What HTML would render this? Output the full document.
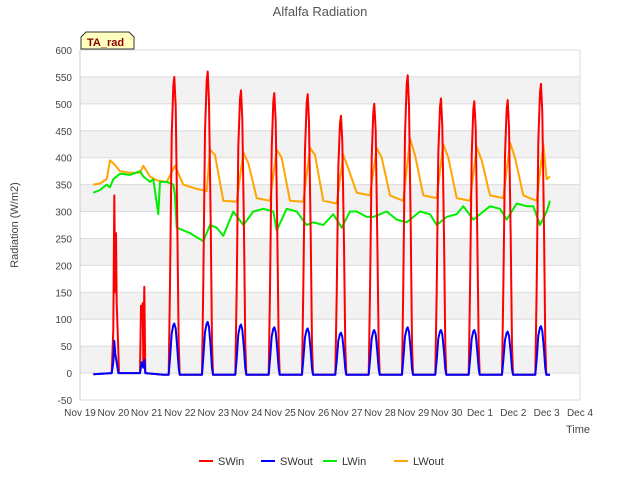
<!DOCTYPE html>
<html><head><meta charset="utf-8"><style>
body{margin:0;background:#fff;font-family:"Liberation Sans",sans-serif;}
svg text{font-family:"Liberation Sans",sans-serif;}
</style></head><body>
<svg id="c" width="640" height="480" xmlns="http://www.w3.org/2000/svg">
<text x="320" y="16" text-anchor="middle" font-size="13" fill="#555">Alfalfa Radiation</text>
<text transform="translate(18,225) rotate(-90)" text-anchor="middle" font-size="11" fill="#444">Radiation (W/m2)</text>
<text x="566" y="433" font-size="11" fill="#444">Time</text>
<g id="bands"></g><g id="grid"></g><g id="ticks"></g><g id="series"></g>
<g>
<path d="M81,49 L81,37 L86,32 L129,32 L134,37 L134,49 Z" fill="#ffffc0" stroke="#333"/>
<text x="87" y="46" font-size="11" font-weight="bold" fill="#8b0000">TA_rad</text></g>
<g id="legend"></g>
</svg>
<script>
const yTicks=[-50,0,50,100,150,200,250,300,350,400,450,500,550,600];
const xLabels=["Nov 19","Nov 20","Nov 21","Nov 22","Nov 23","Nov 24","Nov 25","Nov 26","Nov 27","Nov 28","Nov 29","Nov 30","Dec 1","Dec 2","Dec 3","Dec 4"];
const peakDays=[2,3,4,5,6,7,8,9,10,11,12,13];
const swinPeaks=[550,560,525,520,518,478,500,553,510,505,507,537];
const swoutPeaks=[92,95,90,85,83,75,80,85,80,80,77,87];
const swinEarly=[[0.4,-2],[0.95,0],[1.0,80],[1.03,330],[1.06,150],[1.08,260],[1.1,130],[1.14,60],[1.17,0],[1.8,0],[1.83,125],[1.86,100],[1.88,130],[1.9,20],[1.93,160],[1.96,0]];
const swoutEarly=[[0.4,-2],[0.95,0],[1.0,20],[1.03,60],[1.06,35],[1.1,20],[1.15,0],[1.8,0],[1.85,20],[1.9,10],[1.93,25],[1.96,0]];
const lwinT=[0.4,0.6,0.8,0.9,1.0,1.2,1.5,1.8,1.9,2.1,2.2,2.35,2.4,2.6,2.8,2.85,2.9,3.3,3.7,3.9,4.1,4.3,4.6,4.9,5.2,5.5,5.8,5.9,6.2,6.5,6.8,7.0,7.3,7.6,7.85,8.1,8.3,8.6,8.8,9.2,9.5,9.8,10.2,10.5,10.7,11.0,11.3,11.5,11.8,12.3,12.6,12.8,13.1,13.4,13.6,13.8,14.0,14.1];
const lwinV=[335,340,350,345,360,370,368,375,365,355,360,295,355,355,350,330,270,260,245,275,270,255,300,275,300,305,300,265,305,300,275,280,275,295,270,300,300,290,290,300,285,280,300,295,275,290,295,310,285,310,305,285,315,310,310,275,300,320];
const lwoutT=[0.4,0.6,0.8,0.9,1.0,1.2,1.5,1.8,1.9,2.1,2.3,2.6,2.85,3.1,3.5,3.8,3.9,4.05,4.3,4.7,4.9,5.05,5.3,5.7,5.9,6.05,6.3,6.7,6.9,7.05,7.3,7.7,7.9,8.05,8.3,8.7,8.9,9.05,9.3,9.7,9.9,10.05,10.3,10.7,10.9,11.05,11.3,11.7,11.9,12.05,12.3,12.7,12.9,13.05,13.3,13.7,13.9,14.0,14.1];
const lwoutV=[350,352,360,395,390,375,372,372,385,365,358,355,385,350,342,338,415,405,320,318,410,390,325,320,415,400,320,318,418,405,320,315,405,380,335,330,418,400,330,320,435,405,330,325,425,400,325,320,420,395,330,325,428,400,330,320,425,360,365];
const X0=80,X1=580,Y0=400,Y1=50,D0=0,D1=15,V0=-50,V1=600;
const xs=d=>X0+(d-D0)/(D1-D0)*(X1-X0);
const ys=v=>Y0-(v-V0)/(V1-V0)*(Y0-Y1);
const NS="http://www.w3.org/2000/svg";
function mk(tag,attrs,parent){const e=document.createElementNS(NS,tag);for(const k in attrs)e.setAttribute(k,attrs[k]);parent.appendChild(e);return e;}
const bands=document.getElementById('bands'),grid=document.getElementById('grid'),ticks=document.getElementById('ticks'),series=document.getElementById('series'),legend=document.getElementById('legend');
mk('rect',{x:X0,y:Y1,width:X1-X0,height:Y0-Y1,fill:'#fff'},bands);
for(let i=0;i<yTicks.length-1;i++){
  if(i%2===1){const r=mk('rect',{x:X0,y:ys(yTicks[i+1]),width:X1-X0,height:ys(yTicks[i])-ys(yTicks[i+1]),fill:'#f2f2f2'},bands);
  
  }
}
yTicks.forEach(v=>{
  const l=mk('line',{x1:X0,x2:X1,y1:ys(v),y2:ys(v),stroke:'#dcdcdc'},grid);
  
  
  const t=mk('text',{x:X0-8,y:ys(v)+4,'text-anchor':'end','font-size':10,fill:'#444'},ticks);t.textContent=v;
  
  
});
mk('line',{x1:X0,x2:X0,y1:Y1,y2:Y0,stroke:'#ccc'},grid);
mk('line',{x1:X1,x2:X1,y1:Y1,y2:Y0,stroke:'#ddd'},grid);
xLabels.forEach((s,i)=>{
  const t=mk('text',{x:xs(i),y:416,'text-anchor':'middle','font-size':10,fill:'#444'},ticks);t.textContent=s;
  
  
});
function peakPts(early,peaks){
  const pts=early.slice();
  peakDays.forEach((d,i)=>{const p=peaks[i];
    pts.push([d+0.5,-3],[d+0.66,-3],[d+0.7,p*0.3],[d+0.75,p*0.8],[d+0.8,p*0.97],[d+0.83,p],[d+0.87,p*0.9],[d+0.92,p*0.5],[d+0.96,p*0.1],[d+0.99,-3]);});
  pts.push([14.1,-3]);return pts;
}
function draw(pts,color,name,w){
  const p=mk('polyline',{points:pts.map(q=>xs(q[0]).toFixed(1)+','+ys(q[1]).toFixed(1)).join(' '),fill:'none',stroke:color,'stroke-width':w,'stroke-linejoin':'round'},series);
  
  
}
draw(lwoutT.map((t,i)=>[t,lwoutV[i]]),'#ffa500','lwout-line',2);
draw(lwinT.map((t,i)=>[t,lwinV[i]]),'#00ee00','lwin-line',2);
draw(peakPts(swinEarly,swinPeaks),'#ff0000','swin-line',2);
draw(peakPts(swoutEarly,swoutPeaks),'#0000ff','swout-line',2);
const leg=[['SWin','#ff0000',199],['SWout','#0000ff',261],['LWin','#00ee00',323],['LWout','#ffa500',394]];
leg.forEach(([n,c,x])=>{
  const g=mk('g',{},legend);
  
  
  mk('line',{x1:x,x2:x+14,y1:461,y2:461,stroke:c,'stroke-width':2},g);
  const t=mk('text',{x:x+19,y:465,'font-size':11,fill:'#333'},g);t.textContent=n;
});
</script>
</body></html>
